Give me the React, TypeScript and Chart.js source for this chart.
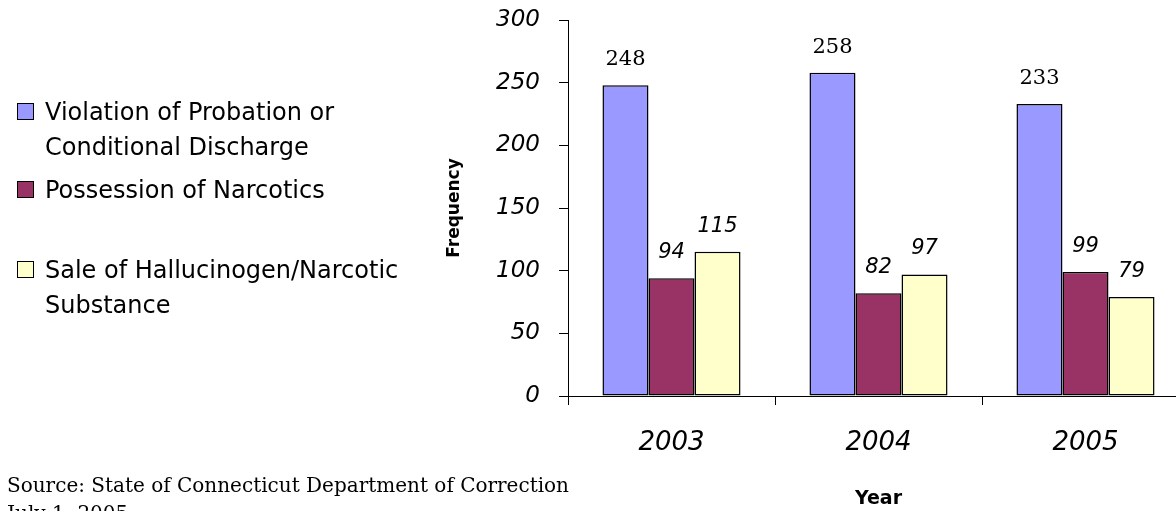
import React, { useEffect, useRef } from "react";
import { Chart, registerables } from "chart.js";

Chart.register(...registerables);

const years = ["2003", "2004", "2005"];
const seriesNames = [
  "Violation of Probation or Conditional Discharge",
  "Possession of Narcotics",
  "Sale of Hallucinogen/Narcotic Substance",
];
const legendLines = [
  ["Violation of Probation or", "Conditional Discharge"],
  ["Possession of Narcotics"],
  ["Sale of Hallucinogen/Narcotic", "Substance"],
];
const violationValues = [248, 258, 233];
const possessionValues = [94, 82, 99];
const saleValues = [115, 97, 79];
const seriesColors = ["#9999FF", "#993366", "#FFFFCC"];
const yMin = 0;
const yMax = 300;
const yStep = 50;
const yTitle = "Frequency";
const xTitle = "Year";
const sourceLines = ["Source: State of Connecticut Department of Correction", "July 1, 2005"];

const legendTops = [95, 173, 253];

const valueLabels = {
  id: "valueLabels",
  afterDatasetsDraw(chart: any) {
    const ctx = chart.ctx;
    chart.data.datasets.forEach((ds: any, i: number) => {
      const meta = chart.getDatasetMeta(i);
      meta.data.forEach((el: any, j: number) => {
        ctx.save();
        ctx.font = i === 0 ? "21px 'DejaVu Serif'" : "italic 21px 'DejaVu Sans'";
        ctx.fillStyle = "#000";
        ctx.textAlign = "center";
        ctx.textBaseline = "alphabetic";
        ctx.fillText(String(ds.data[j]), el.x, el.y - 20);
        ctx.restore();
      });
    });
  },
};

export default function App() {
  const canvasRef = useRef<HTMLCanvasElement | null>(null);

  useEffect(() => {
    if (!canvasRef.current) return;
    const allValues = [violationValues, possessionValues, saleValues];
    const chart = new Chart(canvasRef.current, {
      type: "bar",
      data: {
        labels: years,
        datasets: seriesNames.map((name, i) => ({
          label: name,
          data: allValues[i],
          backgroundColor: seriesColors[i],
          borderColor: "#000",
          borderWidth: 1.5,
          borderSkipped: false,
          categoryPercentage: 0.667,
          barPercentage: 1,
        })),
      },
      options: {
        responsive: false,
        animation: false,
        layout: { padding: { left: 430, top: 20, right: 11, bottom: 0 } },
        plugins: {
          legend: { display: false },
          tooltip: { enabled: false },
        },
        scales: {
          x: {
            grid: {
              offset: true,
              drawOnChartArea: false,
              drawTicks: true,
              tickLength: 9,
              color: "#000",
            },
            border: { display: true, color: "#000", width: 1 },
            ticks: {
              color: "#000",
              padding: 23,
              font: { family: "'DejaVu Sans'", size: 26, style: "italic" },
            },
            title: {
              display: true,
              text: xTitle,
              color: "#000",
              padding: { top: 0, bottom: 1 },
              font: { family: "'DejaVu Sans'", size: 19, weight: "bold" },
            },
            afterFit(scale: any) {
              scale.height = 115;
              scale.paddingLeft = 0;
              scale.paddingRight = 0;
            },
          },
          y: {
            min: yMin,
            max: yMax,
            grid: {
              drawOnChartArea: false,
              drawTicks: true,
              tickLength: 9,
              color: "#000",
            },
            border: { display: true, color: "#000", width: 1 },
            ticks: {
              stepSize: yStep,
              color: "#000",
              padding: 19,
              font: { family: "'DejaVu Sans'", size: 23, style: "italic" },
            },
            title: {
              display: true,
              text: yTitle,
              color: "#000",
              padding: { top: 14, bottom: 0 },
              font: { family: "'DejaVu Sans'", size: 17, weight: "bold" },
            },
            afterFit(scale: any) {
              scale.width = 138;
              scale.paddingTop = 0;
              scale.paddingBottom = 0;
            },
          },
        },
      },
      plugins: [valueLabels],
    });
    return () => chart.destroy();
  }, []);

  return (
    <div
      style={{
        position: "fixed",
        left: 0,
        top: 0,
        width: 1176,
        height: 511,
        overflow: "hidden",
        background: "#fff",
      }}
    >
      <canvas
        ref={canvasRef}
        width={1200}
        height={511}
        style={{ position: "absolute", left: 0, top: 0, width: 1200, height: 511 }}
      />
      {legendLines.map((lines, i) => (
        <div key={i}>
          <div
            style={{
              position: "absolute",
              left: 17,
              top: legendTops[i] + 8,
              width: 15,
              height: 15,
              background: seriesColors[i],
              border: "1.5px solid #000",
            }}
          />
          <div
            style={{
              position: "absolute",
              left: 45,
              top: legendTops[i],
              fontFamily: "'DejaVu Sans'",
              fontSize: 24,
              lineHeight: "35px",
              color: "#000",
              whiteSpace: "nowrap",
            }}
          >
            {lines.map((l, k) => (
              <div key={k}>{l}</div>
            ))}
          </div>
        </div>
      ))}
      <div
        style={{
          position: "absolute",
          left: 7,
          top: 471,
          fontFamily: "'DejaVu Serif'",
          fontSize: 20,
          lineHeight: "28px",
          color: "#000",
          whiteSpace: "nowrap",
        }}
      >
        {sourceLines.map((l, k) => (
          <div key={k}>{l}</div>
        ))}
      </div>
    </div>
  );
}
